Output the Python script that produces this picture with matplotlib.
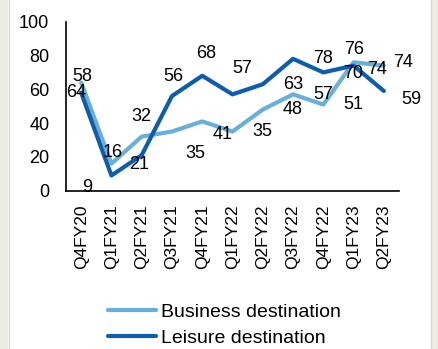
import numpy as np
import matplotlib.pyplot as plt
from matplotlib.patches import Rectangle

plt.rcParams['font.family'] = ['Liberation Sans', 'DejaVu Sans']

quarters = ['Q4FY20', 'Q1FY21', 'Q2FY21', 'Q3FY21', 'Q4FY21', 'Q1FY22',
            'Q2FY22', 'Q3FY22', 'Q4FY22', 'Q1FY23', 'Q2FY23']
business = [64, 16, 32, 35, 41, 35, 48, 57, 51, 76, 74]
leisure = [58, 9, 21, 56, 68, 57, 63, 78, 70, 74, 59]

# label offsets in pixels (dx, dy) relative to each point
business_off = [(-5, -10), (1, 11), (0, 20), (23, -22), (20, -13), (30, 0),
                (30, 0), (30, 0), (30, 0), (1, 13), (19, 3)]
leisure_off = [(1, 16), (-24, -12), (-3, -9), (1, 20), (4, 22), (10, 26),
               (30, 0), (30, 0), (30, -1), (23, -4), (28, -9)]

c_bus = '#6aafd8'
c_lei = '#0e5dad'

fig = plt.figure(figsize=(4.38, 3.49), dpi=100)
ax = fig.add_axes([66/438, 1 - 190.7/349, 333/438, 169/349])

x = np.arange(len(quarters))
ax.plot(x, business, color=c_bus, lw=3, label='Business destination',
        solid_capstyle='round')
ax.plot(x, leisure, color=c_lei, lw=3, label='Leisure destination',
        solid_capstyle='round')

for xi, v, off in zip(x, business, business_off):
    ax.annotate(str(v), (xi, v), xytext=off, textcoords='offset pixels',
                ha='center', va='center', fontsize=13, color='black')
for xi, v, off in zip(x, leisure, leisure_off):
    ax.annotate(str(v), (xi, v), xytext=off, textcoords='offset pixels',
                ha='center', va='center', fontsize=13, color='black')

ax.set_xlim(-0.5, len(quarters) - 0.5)
ax.set_ylim(0, 100)
ax.set_yticks(range(0, 101, 20))
ax.set_xticks(x)
ax.set_xticklabels(quarters, rotation=90)
ax.tick_params(axis='both', length=0)
ax.tick_params(axis='y', pad=12, labelsize=13)
ax.tick_params(axis='x', pad=10, labelsize=12.5)
for s in ['top', 'right']:
    ax.spines[s].set_visible(False)
for s in ['left', 'bottom']:
    ax.spines[s].set_linewidth(1.2)
    ax.spines[s].set_color('black')

fig.legend(loc='center', bbox_to_anchor=(224.5/438, 1 - 325/349), ncol=1,
           frameon=False, fontsize=14, handlelength=2.5, handletextpad=0.26,
           labelspacing=0.42)

# page background strips on the edges
for x0, w in [(0, 8), (431, 7)]:
    fig.patches.append(Rectangle((x0/438, 0), w/438, 1, transform=fig.transFigure,
                                 facecolor='#ecece5', edgecolor='none', zorder=-1))
for xl in [8.5/438, 431/438]:
    fig.add_artist(plt.Line2D([xl, xl], [0, 1], color='#d6d6d2', lw=1))

fig.savefig('out.png', dpi=100)
